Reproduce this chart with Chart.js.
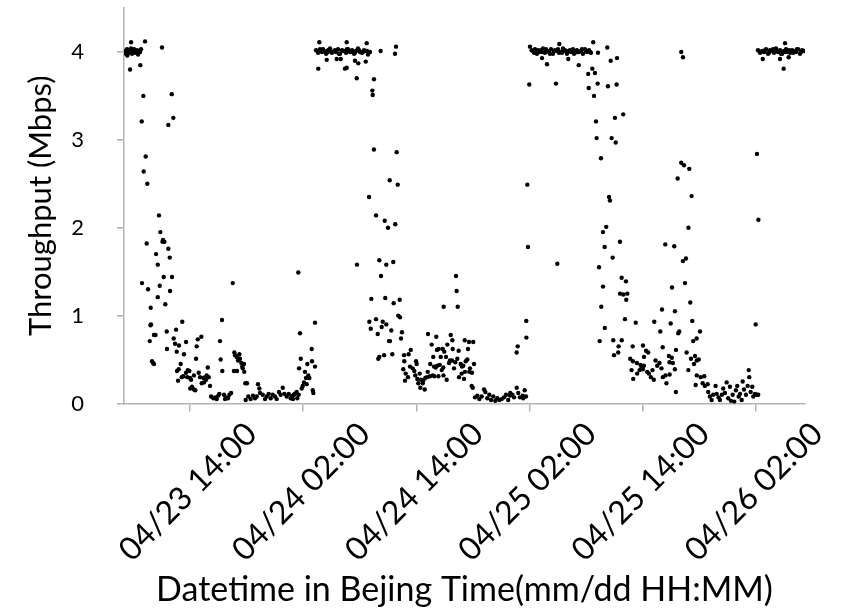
<!DOCTYPE html>
<html lang="en">
<head>
<meta charset="UTF-8">
<title>Throughput</title>
<script src="https://cdn.jsdelivr.net/npm/chart.js@4.4.1/dist/chart.umd.min.js"></script>
<style>
  body { margin: 0; background: #fff; }
  #wrap { width: 844px; height: 610px; }
</style>
</head>
<body>
<div id="wrap"><canvas id="tput" width="844" height="610"></canvas></div>
<script>
// x = hours since 04/23 00:00 (Beijing time), y = throughput in Mbps
const tickHours = [14, 26, 38, 50, 62, 74];
const tickLabels = ['04/23 14:00', '04/24 02:00', '04/24 14:00', '04/25 02:00', '04/25 14:00', '04/26 02:00'];

const morning23 = [
  [7.11,4.01],[7.22,3.98],[7.32,4.03],[7.43,4.00],[7.53,3.99],[7.64,4.02],[7.75,4.04],[7.85,3.98],[7.96,4.01],[8.07,4.03],[8.17,3.99],[8.28,4.00],[8.38,4.02],[8.49,3.97],[8.59,4.01],[8.70,4.00],[8.81,4.03],
  [7.75,4.11],[9.23,4.12],[11.03,4.05],[7.35,3.96],[7.64,3.80],[8.73,3.85],[9.05,3.50],[12.06,3.52],[8.88,3.21],[12.23,3.25],[11.70,3.17],
  [9.30,2.81],[9.09,2.64],[9.47,2.50],[10.71,2.14],[10.85,1.95],[9.41,1.82],[11.08,1.84],[11.13,1.86],[11.28,1.84],[11.70,1.76],[10.40,1.70],[11.85,1.66],[10.58,1.58],
  [8.91,1.37],[9.55,1.30],[11.21,1.44],[12.09,1.44],[10.79,1.34],[10.58,1.21],[11.88,1.28],[9.83,1.09],[11.38,1.13],
  [9.81,0.89],[9.87,0.90],[10.18,0.78],[10.34,0.78],[9.73,0.71],[11.53,0.82],[12.52,0.84],[13.18,0.93],[12.27,0.74],[12.41,0.68],[12.83,0.66],[11.56,0.62],[13.58,0.70],[14.82,0.73],[15.20,0.76],[14.71,0.65],[12.59,0.59],[13.36,0.56],
  [9.97,0.48],[10.08,0.46],[10.18,0.45],[14.64,0.51],[13.01,0.45],[12.80,0.39],[12.62,0.37],[13.76,0.38],[13.58,0.35],[13.93,0.37],
  [13.12,0.30],[13.29,0.31],[13.71,0.30],[14.00,0.29],[14.42,0.32],[14.92,0.35],[15.06,0.30],[12.73,0.26],[14.11,0.27],[14.21,0.19],[14.42,0.16],[14.56,0.15],[14.03,0.17],
  [15.41,0.29],[15.62,0.30],[15.77,0.32],[15.98,0.30],[15.24,0.23],[15.48,0.24],[15.70,0.27],[16.12,0.20],[15.88,0.41]
];

const evening23 = [
  [17.18,0.71],[17.39,0.95],[17.25,0.50],[17.42,0.37],[18.53,1.37],
  [18.70,0.58],[18.95,0.53],[18.77,0.55],[19.23,0.56],[19.09,0.49],[19.30,0.51],[19.44,0.46],[19.72,0.45],[19.59,0.40],[18.98,0.37],[18.66,0.37],[19.75,0.36],[19.54,0.42],[19.86,0.23],[20.04,0.23],
  [16.23,0.08],[16.47,0.06],[16.65,0.07],[16.83,0.05],[17.00,0.09],[17.11,0.11],[17.60,0.10],[17.82,0.07],[18.03,0.06],[18.17,0.10],[18.35,0.12],[17.71,0.05],
  [19.90,0.04],[20.18,0.08],[20.43,0.05],[20.68,0.09],[20.89,0.06],[21.07,0.08],[21.21,0.22],[21.35,0.17],[21.42,0.12],[21.71,0.10],[21.95,0.05],[22.13,0.08],[22.34,0.11],[22.55,0.06],[22.77,0.10],[23.01,0.08],[23.19,0.05],[23.43,0.13],[23.61,0.10],[23.83,0.18],[24.00,0.11],[24.25,0.08],[24.46,0.11],[24.67,0.06],[24.89,0.09],[25.10,0.11],[25.31,0.13],[25.52,0.10],[24.78,0.08],[25.02,0.10],[25.24,0.12],[25.37,0.06],[24.92,0.05]
];

const night24 = [
  [25.48,1.49],[25.66,0.80],[27.25,0.92],[25.74,0.51],[25.56,0.40],[26.90,0.62],[26.44,0.45],[26.93,0.48],[27.25,0.42],[26.19,0.36],[26.54,0.32],[26.65,0.29],[26.30,0.29],[26.08,0.24],[25.95,0.20],[25.84,0.17],[26.37,0.22],[27.01,0.15],[27.07,0.12],
  [27.36,4.02],[27.57,3.99],[27.78,4.03],[27.99,4.00],[28.20,4.01],[28.42,3.98],[28.63,4.02],[28.84,4.04],[29.05,3.99],[29.27,4.01],[29.48,4.00],[29.69,4.03],[29.90,3.98],[30.11,4.02],[30.33,4.01],[30.54,3.99],[30.75,4.03],[30.96,4.00],[31.18,4.02],[31.39,3.98],[31.60,4.01],[31.81,4.04],[32.02,4.00],[32.23,3.99],[32.45,4.02],[32.66,4.01],[32.87,3.97],[33.08,4.00],
  [27.67,4.01],[28.10,4.03],[28.52,3.99],[28.95,4.00],[29.37,4.02],[29.79,3.98],[30.22,4.01],[30.64,4.03],[31.07,4.00],[31.49,3.99],[31.92,4.02],[32.34,4.00],[32.76,4.01],
  [27.71,4.11],[30.61,4.11],[32.73,4.10],[34.21,4.01],[35.84,4.06],[35.73,3.98],[28.49,3.91],[29.55,3.92],[29.98,3.92],[31.49,3.90],[31.84,3.87],[32.63,3.89],[27.60,3.81],[30.43,3.81],[30.61,3.82],[31.67,3.70],[33.50,3.69],[33.33,3.56],[33.37,3.51],
  [33.50,2.89],[35.91,2.86],[35.17,2.54],[36.02,2.49],[32.98,2.35],[33.72,2.14],[34.64,2.08],[34.99,2.00],[35.76,2.04],[31.70,1.58],[34.07,1.63],[34.81,1.58],[35.55,1.61],[34.25,1.45],
  [33.22,1.19],[34.70,1.20],[35.59,1.14],[36.23,1.18],[36.08,1.00],[36.26,0.98],[33.01,0.93],[33.72,0.96],[33.16,0.85],[33.90,0.79],[34.43,0.93],[34.81,0.90],[34.32,0.87],[35.34,0.83],[35.10,0.71],[35.20,0.71],[35.45,0.56],[33.96,0.51],[34.07,0.53],[34.57,0.55],[36.47,0.81],[36.37,0.74]
];

const day24 = [
  [37.40,0.61],[37.18,0.56],[36.69,0.55],[36.72,0.48],[36.61,0.39],[36.87,0.34],[36.79,0.26],[37.11,0.30],[37.32,0.42],[37.61,0.40],[37.78,0.37],[37.96,0.48],[38.03,0.45],[37.88,0.32],[38.10,0.28],[38.35,0.34],[38.20,0.23],[38.49,0.27],[38.73,0.26],[38.42,0.18],[38.88,0.16],[38.67,0.23],[38.94,0.29],[39.12,0.30],[39.20,0.36],[39.44,0.31],[39.73,0.32],[39.90,0.31],[40.05,0.41],
  [39.23,0.79],[40.11,0.76],[39.62,0.67],[40.18,0.61],[40.36,0.62],[40.79,0.62],[40.96,0.59],[41.28,0.67],[41.64,0.78],[41.81,0.72],[41.85,0.62],[41.14,0.53],[40.58,0.53],[39.79,0.53],[39.47,0.45],[40.47,0.44],[40.21,0.43],[40.85,0.41],[41.46,0.46],[41.56,0.49],[41.77,0.49],[42.12,0.47],[41.99,0.40],[42.34,0.51],[42.48,0.60],[42.70,0.45],[42.83,0.42],[42.97,0.43],[43.12,0.72],[43.47,0.62],[43.58,0.70],[44.03,0.70],[43.40,0.50],[43.23,0.48],[43.68,0.40],[44.11,0.45],[43.89,0.35],[43.61,0.36],[43.15,0.36],[42.80,0.34],[42.52,0.30],[43.05,0.28],[41.21,0.27],[40.87,0.32],[40.69,0.38],[40.33,0.31],[39.87,0.42],[43.86,0.20],[43.97,0.18],
  [42.20,1.45],[42.27,1.28],[42.38,1.10],[40.89,1.10],
  [44.21,0.07],[44.46,0.09],[44.67,0.05],[44.92,0.08],[45.17,0.16],[45.31,0.13],[45.52,0.06],[45.73,0.10],[45.91,0.04],[46.15,0.08],[46.36,0.03],[46.58,0.06],[46.79,0.04],[47.04,0.05],[47.29,0.07],[47.50,0.10],[47.74,0.04],[47.92,0.09],[48.17,0.10],[48.35,0.07],[48.63,0.18],[48.80,0.12],[48.98,0.07],[49.27,0.09],[49.48,0.15],[49.62,0.08],[49.33,0.06],[47.95,0.12],
  [49.65,0.94],[49.66,0.75],[48.74,0.65],[48.63,0.58]
];

const night25 = [
  [49.76,2.49],[49.83,1.78],[49.97,3.63],[50.04,4.06],[50.22,4.02],
  [50.36,4.01],[50.57,4.03],[50.78,3.98],[50.99,4.00],[51.21,4.02],[51.42,4.04],[51.63,3.99],[51.84,4.01],[52.06,4.00],[52.27,4.03],[52.48,3.98],[52.69,4.02],[52.90,4.01],[53.12,3.99],[53.33,4.00],[53.54,4.04],[53.75,4.02],[53.96,3.98],[54.18,4.01],[54.39,4.00],[54.60,4.03],[54.81,3.99],[55.02,4.02],[55.24,4.00],[55.45,4.01],[55.66,3.98],[55.87,4.03],[56.08,4.00],[56.30,4.02],[56.51,3.99],
  [50.47,3.99],[50.89,4.02],[51.31,4.00],[51.74,4.03],[52.16,3.98],[52.59,4.01],[53.01,4.03],[53.43,3.99],[53.86,4.01],[54.28,4.02],[54.71,3.98],[55.13,4.00],[55.56,4.03],[55.98,4.01],[56.40,4.00],
  [53.15,4.09],[56.75,4.11],[57.25,3.99],[58.24,4.05],[51.32,3.93],[51.85,3.86],[54.10,3.92],[55.21,3.85],[56.22,3.75],[56.65,3.81],[56.93,3.76],[58.60,3.90],[59.27,3.93],[52.80,3.64],[56.27,3.59],[57.22,3.64],[58.31,3.61],[59.23,3.63],[56.83,3.50],[57.04,3.21],[59.05,3.25],[59.93,3.29],[57.11,3.02],[58.70,3.02],[59.13,2.97],[57.57,2.79],[58.42,2.35],[58.52,2.31],[58.13,2.01],[57.78,1.95],[57.96,1.78],[59.58,1.84],[58.81,1.66],[52.94,1.59],[57.36,1.55],[57.79,1.33],[57.60,1.10],[57.97,0.86],[57.43,0.71],
  [59.76,1.43],[60.22,1.39],[59.59,1.25],[59.94,1.24],[60.36,1.25],[60.25,1.18],[60.11,0.96],[61.25,0.92],[58.87,0.72],[59.77,0.72],[59.44,0.65],[59.40,0.58],[58.95,0.55],[60.93,0.65]
];

const day25 = [
  [62.02,0.66],[62.34,0.60],[62.58,0.58],[62.13,0.53],
  [60.67,0.51],[60.96,0.48],[61.38,0.46],[60.81,0.38],[60.99,0.28],[61.41,0.34],[61.66,0.38],[61.87,0.41],[61.76,0.44],[62.12,0.43],[62.01,0.39],[62.47,0.36],[62.65,0.34],[62.86,0.30],[63.03,0.38],[63.17,0.27],[63.35,0.49],[63.53,0.43],[63.77,0.46],[63.98,0.40],[64.13,0.30],[64.41,0.32],[64.51,0.23],[64.77,0.54],[64.83,0.47],[65.08,0.52],[65.19,0.46],[65.40,0.39],[64.85,0.33],[65.51,0.13],
  [63.22,0.93],[64.04,1.07],[63.86,0.82],[64.11,0.64],[64.96,0.91],[65.41,1.05],[65.87,0.82],[65.76,0.80],[65.52,0.61],[65.10,1.32],[66.48,1.37],[67.04,1.15],[67.25,0.94],[68.07,0.82],[67.35,0.71],[67.71,0.74],[66.65,0.58],[67.11,0.51],[67.54,0.54],[67.72,0.49],[67.93,0.50],[67.43,0.45],[66.83,0.38],[67.61,0.21],[67.73,0.32],[68.14,0.30],[68.52,0.31],[68.35,0.23],[68.59,0.20],[68.88,0.22],
  [66.08,2.74],[66.37,2.71],[66.93,2.67],[65.70,2.56],[67.18,2.36],[66.84,2.00],[64.39,1.81],[65.34,1.79],[66.26,1.62],[66.58,1.65],[66.08,4.00],[66.26,3.94],
  [68.94,0.13],[69.12,0.08],[69.30,0.04],[69.47,0.10],[69.72,0.20],[69.83,0.11],[70.04,0.07],[70.18,0.04],[70.39,0.10],[70.53,0.17],[70.71,0.12],[70.89,0.24],[71.06,0.06],[71.24,0.19],[71.35,0.03],[71.53,0.10],[71.70,0.02],[71.88,0.15],[72.02,0.20],[72.17,0.08],[72.31,0.11],[72.49,0.04],[72.59,0.25],[72.73,0.16],[72.94,0.10],[73.12,0.20],[73.23,0.38],[73.29,0.30],[73.44,0.13],[73.61,0.19],[73.72,0.08],[73.90,0.11],[74.08,0.10],[74.24,0.10]
];

const night26 = [
  [73.97,0.90],[74.11,2.84],[74.26,2.09],
  [74.22,4.02],[74.43,3.99],[74.65,4.01],[74.86,4.00],[75.07,4.03],[75.28,3.98],[75.49,4.02],[75.71,4.01],[75.92,3.99],[76.13,4.04],[76.34,4.00],[76.56,4.02],[76.77,3.98],[76.98,4.01],[77.19,4.03],[77.40,4.00],[77.62,3.99],[77.83,4.02],[78.04,4.01],[78.25,4.00],[78.46,4.03],[78.67,3.98],[78.89,4.02],[79.10,4.01],
  [74.54,4.00],[74.96,4.02],[75.39,3.99],[75.81,4.03],[76.24,4.01],[76.66,3.98],[77.09,4.00],[77.51,4.02],[77.94,3.99],[78.36,4.03],[78.78,4.00],
  [77.08,4.10],[74.72,3.92],[76.55,3.92],[77.47,3.94],[76.94,3.81]
];

const allPoints = [].concat(morning23, evening23, night24, day24, night25, day25, night26)
  .map(p => ({ x: p[0], y: p[1] }));

const FONT = 'Lato';
const xTickFont = { family: FONT, size: 32 };

// rotated x labels are right-aligned at the tick by Chart.js; shift them so they sit centred under it
const m = document.createElement('canvas').getContext('2d');
m.font = xTickFont.size + 'px ' + FONT;
const labelLen = m.measureText(tickLabels[0]).width;
const lineH = xTickFont.size * 1.2;
const half45 = Math.SQRT1_2 / 2;

const ctx = document.getElementById('tput');
new Chart(ctx, {
  type: 'scatter',
  data: {
    datasets: [{
      data: allPoints,
      backgroundColor: '#000',
      borderWidth: 0,
      pointRadius: 2.2,
      pointHoverRadius: 2.2
    }]
  },
  options: {
    responsive: false,
    animation: false,
    layout: { padding: { top: 8, right: 39, left: 0, bottom: 0 } },
    plugins: { legend: { display: false }, tooltip: { enabled: false } },
    scales: {
      x: {
        type: 'linear',
        min: 7,
        max: 79.2,
        afterBuildTicks: s => { s.ticks = tickHours.map(v => ({ value: v })); },
        afterFit: s => { s.height = 206.5; s.paddingLeft = 0; s.paddingRight = 0; },
        ticks: {
          autoSkip: false,
          minRotation: 45,
          maxRotation: 45,
          labelOffset: half45 * labelLen - 2,
          padding: Math.max(0, 492 - 411.5 - half45 * (labelLen + lineH)),
          color: '#000',
          font: xTickFont,
          callback: (v, i) => tickLabels[i]
        },
        grid: { drawOnChartArea: false, tickLength: 8, color: '#b3b3b3', lineWidth: 1.5 },
        border: { color: '#b3b3b3', width: 1.5 },
        title: {
          display: true,
          text: 'Datetime in Bejing Time(mm/dd HH:MM)',
          color: '#000',
          font: { family: FONT, size: 34 },
          padding: { top: 0, bottom: 0 }
        }
      },
      y: {
        min: 0,
        max: 4.5,
        afterBuildTicks: s => { s.ticks = s.ticks.filter(t => t.value <= 4); },
        afterFit: s => { s.width = 124; s.paddingTop = 0; s.paddingBottom = 0; },
        ticks: { stepSize: 1, padding: 33, color: '#000', font: { family: FONT, size: 22 } },
        grid: { drawOnChartArea: false, tickLength: 7, color: '#b3b3b3', lineWidth: 1.5 },
        border: { color: '#b3b3b3', width: 1.5 },
        title: {
          display: true,
          text: 'Throughput (Mbps)',
          color: '#000',
          font: { family: FONT, size: 31 },
          padding: { top: 22, bottom: 0 }
        }
      }
    }
  }
});
</script>
</body>
</html>
